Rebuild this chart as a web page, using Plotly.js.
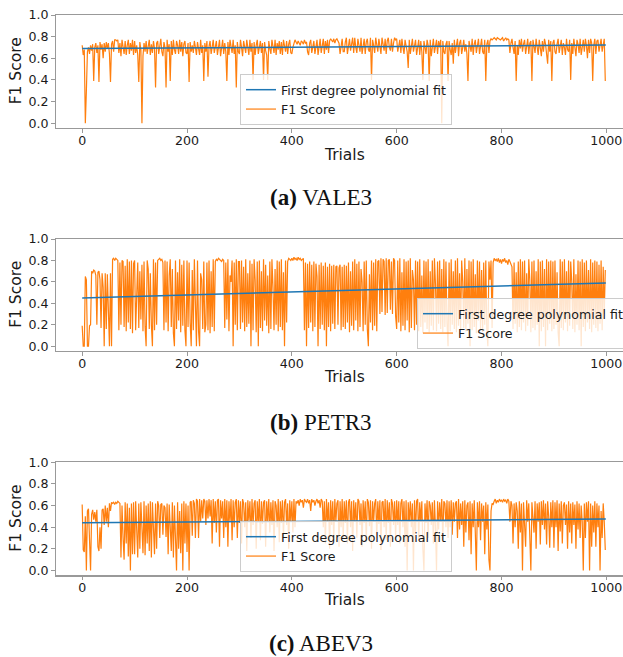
<!DOCTYPE html>
<html>
<head>
<meta charset="utf-8">
<script src="https://cdn.plot.ly/plotly-3.0.1.min.js"></script>
<style>
html,body{margin:0;padding:0;overflow:hidden;background:#fff;}
#chart{width:660px;height:657px;}
</style>
</head>
<body>
<div id="chart"></div>
<script>
// Trials are sampled every 2 (0, 2, 4, ..., 998)
const trialStart = 0;
const trialStep = 2;
const xTicks = [0, 200, 400, 600, 800, 1000];
const yTicks = [0.0, 0.2, 0.4, 0.6, 0.8, 1.0];
const fitTrials = [0, 999];

// (a) VALE3
const vale3F1 = [
.72,.63,.68,0,.30,.66,.70,.64,.72,.67,.73,.39,.70,.74,.65,.72,.38,.75,.68,.73,.60,.74,.66,.75,.69,.74,.64,.38,.73,.76,.66,.77,.77,.76,.77,.65,.74,.62,.77,.70,.64,.76,.63,.72,.77,.64,.74,.67,.77,.63,
.76,.65,.72,.63,.38,.75,.68,0,.62,.74,.66,.76,.64,.71,.77,.63,.73,.65,.76,.69,.33,.74,.76,.64,.72,.78,.66,.62,.75,.70,.33,.77,.66,.73,.39,.76,.63,.77,.68,.64,.76,.72,.64,.77,.66,.75,.62,.73,.76,.65,
.64,.74,.38,.75,.66,.72,.65,.76,.70,.63,.75,.68,.63,.77,.65,.72,.39,.74,.66,.76,.43,.71,.76,.64,.73,.77,.65,.70,.76,.63,.72,.77,.62,.68,.77,.64,.74,.66,.39,.75,.63,.77,.70,.65,.77,.64,.72,.33,.75,.66,
.64,.77,.70,.62,.76,.68,.65,.77,.71,.63,.77,.66,.74,.40,.75,.63,.72,.77,.64,.70,.76,.65,.74,.40,.75,.67,.63,.40,.76,.69,.64,.77,.72,.65,.77,.63,.74,.68,.76,.64,.75,.63,.77,.70,.66,.76,.64,.73,.77,.65,
.64,.70,.74,.77,.75,.73,.76,.74,.72,.76,.75,.73,.77,.74,.75,.66,.63,.74,.77,.65,.70,.76,.64,.72,.77,.63,.74,.78,.65,.71,.78,.64,.76,.68,.77,.65,.76,.78,.77,.75,.78,.74,.77,.78,.76,.74,.64,.72,.78,.66,
.66,.75,.79,.64,.72,.78,.67,.74,.79,.65,.79,.70,.65,.78,.73,.66,.79,.64,.71,.78,.64,.75,.78,.68,.66,.79,.40,.77,.72,.65,.79,.74,.66,.78,.70,.64,.79,.73,.67,.78,.64,.76,.79,.70,.67,.78,.66,.74,.79,.77,
.78,.66,.73,.77,.65,.78,.70,.64,.77,.72,.66,.51,.77,.64,.72,.78,.66,.74,.77,.63,.70,.77,.63,.76,.66,.40,.76,.69,.64,.77,.72,.39,.77,.62,.74,.78,.65,.71,.77,.64,.76,.70,.77,0,.76,.66,.64,.73,.76,.39,
.76,.68,.63,.74,.55,.77,.65,.72,.78,.62,.74,.77,.64,.70,.77,.66,.73,.64,.39,.76,.70,.66,.78,.63,.73,.77,.65,.74,.78,.64,.72,.78,.66,.64,.77,.39,.73,.77,.65,.76,.78,.77,.78,.79,.78,.77,.79,.78,.78,.77,
.78,.79,.76,.78,.79,.77,.78,.77,.65,.74,.78,.70,.64,.76,.39,.72,.63,.77,.69,.78,.66,.73,.77,.64,.70,.78,.64,.74,.76,.39,.77,.68,.65,.78,.72,.63,.77,.70,.62,.76,.66,.78,.73,.64,.55,.77,.66,.76,.39,.74,
.77,.66,.64,.73,.78,.65,.72,.77,.63,.74,.70,.63,.78,.68,.66,.77,.40,.74,.64,.78,.70,.62,.77,.73,.65,.78,.63,.71,.77,.66,.78,.72,.60,.77,.65,.78,.74,.39,.72,.78,.64,.76,.77,.66,.72,.78,.66,.73,.78,.39
];
const vale3Fit = [0.69, 0.722];

// (b) PETR3
const petr3F1 = [
.19,0,0,.65,.62,0,0,.19,.20,.70,.68,.71,.70,.66,.20,.69,.70,.62,.17,.68,.55,0,.68,.16,.67,.20,0,.68,0,.81,.82,.80,.82,.81,.80,.15,.78,.20,.80,.79,.18,.75,.14,.81,.22,.79,.16,.80,.12,.77,
.80,.15,.62,.78,.17,.70,.25,.76,.14,.79,.18,0,.80,.72,.16,.68,.20,0,.81,.15,.78,.20,.80,.81,.82,.80,.81,.78,.15,.80,.22,.79,.14,.66,.81,.18,.72,.12,0,.80,.16,.69,.24,.81,.13,.76,.19,.80,.15,0,
.80,.18,.78,.22,0,.71,.15,.81,.20,0,.80,.14,0,.68,.62,.16,.79,.13,.20,.78,.15,.80,.12,.70,.18,.81,.14,.79,.81,.80,.82,.81,.80,.79,.81,.80,.17,.78,.25,.81,.14,.66,.60,.80,0,.78,.20,.81,.15,.79,
.79,.16,.80,.22,.74,.14,.81,.18,.68,.21,.80,0,.77,.15,.81,.62,.13,.79,0,.80,.17,.70,.14,.81,.24,.76,.19,.66,.12,.79,.16,.81,.55,.15,.72,.20,.80,.14,.79,.18,.81,.15,.69,0,.80,.22,.79,.82,.81,.80,
.82,.80,.83,.81,.82,.80,.83,.81,.82,.80,.81,.82,.15,.78,0,.77,.17,.79,.22,.76,.14,.79,.18,.77,.65,0,.76,.16,.78,.20,.75,.15,.78,0,.74,.18,.77,.14,.75,.21,.76,.16,.74,.75,.20,.73,.76,.15,.74,.18,
.76,.16,.75,.22,.78,.13,.70,.19,.79,.15,.81,.24,.77,.14,.79,.18,.72,.60,.14,.79,.20,.80,.16,0,.67,.22,.80,.15,.78,.19,.81,.14,.79,.80,.30,.82,.32,.81,.79,.29,.82,.31,.80,.81,.34,.79,.30,.82,.80,.28,
.16,.80,.22,.82,.14,.69,.19,.81,.15,.79,.24,.80,.13,.82,.17,.71,.62,.15,.80,.20,.79,.14,.81,.18,.66,.12,.80,.22,.79,.16,.81,.13,.70,.19,.80,.15,.82,.58,.14,.79,.21,.80,.16,.72,.13,.81,.18,.79,.22,0,
.78,.14,.81,.20,.70,.16,.80,.13,.82,.19,.68,.15,.80,.60,.17,.82,.14,.72,.21,.80,0,.79,.15,.81,.18,.67,.12,.80,.24,.79,.16,.71,.13,.78,.20,.80,.15,0,.79,.62,.80,.17,.78,.82,.80,.81,.79,.82,.78,.81,
.77,.81,.79,.82,.78,.80,.76,.81,.79,.77,.74,.16,.78,.21,.69,.13,.79,.18,.81,.15,.79,.22,.80,.14,.68,.19,.81,.62,.13,.79,.17,.80,.15,.70,.20,.81,0,.79,.14,.80,.18,.72,0,.81,.15,.79,.21,.80,.14,.79,
.16,.80,.20,.69,.13,0,.81,.17,.79,.15,.81,.22,.70,.14,.80,.19,.79,.60,.16,.81,.13,.67,.20,.80,.15,.79,0,.81,.18,.78,.14,.80,.22,.71,.16,.81,.13,.78,.20,.80,.17,.79,.14,.76,.21,.80,.15,.74,.30,.71
];
const petr3Fit = [0.45, 0.59];

// (c) ABEV3
const abev3F1 = [
.61,.19,.17,.50,0,.55,.57,.30,0,.52,.56,.47,.54,.45,.56,.22,.18,.40,.20,.56,.57,.42,.60,.45,.58,.40,.62,.55,.63,.62,.63,.61,.63,.62,.64,.63,.62,.12,.60,.30,.10,.63,.25,.62,.13,.58,0,.62,.15,.63,
.15,.64,.30,.12,.62,.20,.63,.45,.16,.64,.14,.60,.25,.62,.18,.64,.12,.63,.35,.15,.62,.20,.64,.60,.30,.61,.62,.33,.60,.58,.31,.62,.15,.61,.40,.18,.63,.12,.60,.16,0,.63,.20,.55,.16,.62,0,.64,.25,.62,
.17,.60,0,.63,.64,.32,.65,.62,.30,.66,.64,.30,.66,.45,.65,.48,.66,.64,.42,.65,.48,.66,.50,.65,.25,.66,.44,.64,.35,.65,.66,.22,.65,.48,.64,.30,.66,.40,.65,.22,.64,.45,.66,.28,.65,.40,.63,.66,.30,.65,
.44,.64,.25,.66,.62,.40,.63,.18,.65,.46,.64,.30,.66,.42,.62,.65,.20,.64,.45,.66,.28,.64,.43,.63,.65,.22,.64,.45,.66,.35,.63,.42,.65,.18,.64,.60,.40,.66,.26,.64,.44,.65,.30,.63,.66,.42,.62,.20,.65,.45,
.64,.35,.66,.40,.64,.62,.65,.60,.66,.63,.65,.58,.66,.64,.63,.66,.62,.65,.55,.66,.63,.65,.60,.64,.66,.62,.65,.58,.66,.64,.40,.64,.25,.66,.45,.63,.20,.65,.42,.64,.28,.66,.45,.62,.65,.22,.64,.40,.66,.30,
.64,.44,.65,.25,.63,.66,.40,.64,.18,.65,.45,.63,.30,.66,.64,.42,.62,.22,.65,.44,.64,.26,.66,.63,.41,.65,.20,.64,.45,.62,.66,.30,.64,.43,.65,.19,.63,.64,.40,.66,.28,.65,.44,.63,.22,.66,.62,.42,.64,.30,
.65,.42,.64,.25,.62,.66,.40,.64,.22,.65,0,.63,.45,.64,.40,.62,0,.65,.35,.64,.66,.28,.63,.45,.64,.20,0,.62,.44,.65,.30,.64,.60,.42,.63,.25,.65,.40,0,.64,.38,.63,.45,.66,.28,.64,.62,.40,.65,.30,
.64,.40,.65,.33,.63,.45,.62,.64,.30,.66,.38,.62,.42,.64,.22,.65,.35,.60,.63,.28,.64,.15,.62,.40,.65,.35,0,.63,.40,.64,.28,.62,.45,.60,.15,.63,.38,.61,.10,0,.55,.62,.61,.64,.66,.62,.65,.63,.66,.64,
.65,.63,.66,.64,.65,.62,.66,.64,.45,.64,.60,.25,.62,.40,.63,.55,.20,.64,.35,.62,0,.63,.40,.22,.65,.45,.62,.30,0,.63,.42,.35,.64,.20,.62,.45,.63,.24,.64,.42,.65,.38,.62,.24,.64,.50,.21,.63,.40,.65,
.21,.63,.40,.65,.18,.62,.36,.64,.25,.60,.63,.42,.61,.20,.64,.35,.62,.25,.63,.42,.61,.20,.64,.38,.62,.30,.60,.45,0,.62,.30,.63,.45,.64,0,.62,.22,.60,.35,.64,.22,.62,.40,.60,0,.55,.30,.62,.45,.19
];
const abev3Fit = [0.44, 0.475];

const ORANGE = '#ff7f0e', BLUE = '#1f77b4';
const W = 660, H = 657, ML = 56, MR = 28;
const plotW = W - ML - MR;
const px = v => (v - ML) / plotW;      // absolute px -> paper x
const py = v => 1 - v / H;             // absolute px -> paper y

const panels = [
  {f1: vale3F1, fit: vale3Fit, top: 15,    bottom: 127.7, lg: [240, 74],  trials: 155, cap: 197, label: '<b>(a)</b> VALE3'},
  {f1: petr3F1, fit: petr3Fit, top: 239,   bottom: 350.7, lg: [417, 298], trials: 377, cap: 422, label: '<b>(b)</b> PETR3'},
  {f1: abev3F1, fit: abev3Fit, top: 462.3, bottom: 575,   lg: [240, 521], trials: 600, cap: 643, label: '<b>(c)</b> ABEV3'}
];

const FONT = 'DejaVu Sans, sans-serif';
const traces = [];
const layout = {
  width: W, height: H,
  margin: {l: ML, r: MR, t: 0, b: 0, pad: 0},
  paper_bgcolor: '#fff', plot_bgcolor: '#fff',
  font: {family: FONT, color: '#1a1a1a', size: 12.6},
  showlegend: true,
  annotations: []
};

panels.forEach((p, i) => {
  const n = i === 0 ? '' : String(i + 1);
  const xa = 'x' + n, ya = 'y' + n, lg = 'legend' + n;
  traces.push({
    y: p.f1, x0: trialStart, dx: trialStep, xaxis: xa, yaxis: ya, type: 'scatter', mode: 'lines',
    name: 'F1 Score', line: {color: ORANGE, width: 1.2}, legend: lg
  });
  traces.push({
    x: fitTrials, y: p.fit, xaxis: xa, yaxis: ya, type: 'scatter', mode: 'lines',
    name: 'First degree polynomial fit', line: {color: BLUE, width: 1.5}, legend: lg
  });
  const axCommon = {
    showline: true, mirror: true, linecolor: '#999', linewidth: 1.5,
    ticks: 'outside', ticklen: 3.5, tickwidth: 1, tickcolor: '#999',
    showgrid: false, zeroline: false,
    tickfont: {family: FONT, size: 12.6, color: '#1a1a1a'}
  };
  layout['xaxis' + n] = Object.assign({}, axCommon, {
    domain: [0, 1], range: [-49.95, 1048.95], anchor: ya,
    tickmode: 'array', tickvals: xTicks, ticktext: xTicks.map(String),
    ticklabelstandoff: -3
  });
  layout['yaxis' + n] = Object.assign({}, axCommon, {
    domain: [py(p.bottom), py(p.top)], range: [-0.042, 1.0], anchor: xa,
    tickmode: 'array', tickvals: yTicks, ticktext: yTicks.map(v => v.toFixed(1))
  });
  layout[lg] = {
    x: px(p.lg[0]), y: py(p.lg[1]), xanchor: 'left', yanchor: 'top',
    bgcolor: 'rgba(255,255,255,0.8)', bordercolor: '#cccccc', borderwidth: 1,
    font: {family: FONT, size: 12.6, color: '#1a1a1a'}, itemwidth: 30,
    traceorder: 'reversed', tracegroupgap: 0
  };
  layout.annotations.push({
    text: 'F1 Score', textangle: -90, xref: 'paper', yref: 'paper',
    x: px(16), y: py((p.top + p.bottom) / 2), xanchor: 'center', yanchor: 'middle',
    showarrow: false, font: {family: FONT, size: 15.5, color: '#1a1a1a'}
  });
  layout.annotations.push({
    text: 'Trials', xref: 'paper', yref: 'paper',
    x: 0.5, y: py(p.trials), xanchor: 'center', yanchor: 'middle',
    showarrow: false, font: {family: FONT, size: 15.5, color: '#1a1a1a'}
  });
  layout.annotations.push({
    text: p.label, xref: 'paper', yref: 'paper',
    x: px(320.5), y: py(p.cap), xanchor: 'center', yanchor: 'middle',
    showarrow: false, font: {family: 'Liberation Serif, Times New Roman, serif', size: 23, color: '#111'}
  });
});

Plotly.newPlot('chart', traces, layout, {displayModeBar: false, staticPlot: true});
</script>
</body>
</html>
